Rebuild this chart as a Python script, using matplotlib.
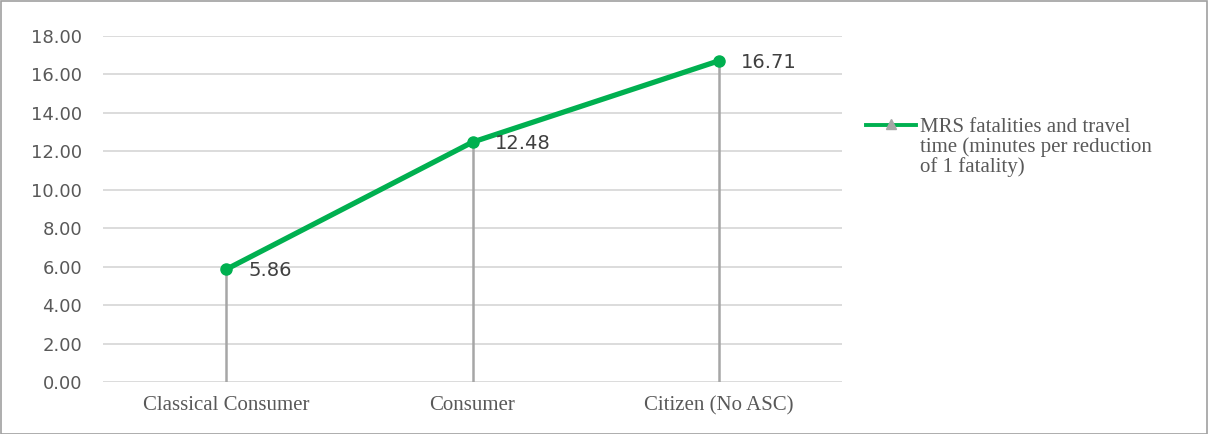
import matplotlib
matplotlib.use("Agg")
import matplotlib.pyplot as plt
from matplotlib.lines import Line2D
from matplotlib.patches import Rectangle

categories = ["Classical Consumer", "Consumer", "Citizen (No ASC)"]
mrs_values = [5.86, 12.48, 16.71]
y_ticks = [0, 2, 4, 6, 8, 10, 12, 14, 16, 18]
series_label = "MRS fatalities and travel\ntime (minutes per reduction\nof 1 fatality)"

green = "#00b050"
grid_grey = "#d9d9d9"
drop_grey = "#a6a6a6"
text_grey = "#595959"

fig = plt.figure(figsize=(12.08, 4.34), dpi=100)
fig.patches.append(Rectangle((0.0008, 0.001), 0.9984, 0.997, transform=fig.transFigure,
                             fill=False, edgecolor="#a0a0a0", linewidth=1.2))
ax = fig.add_axes([0.0853, 0.1198, 0.6117, 0.7972])

x = list(range(len(categories)))
for xi, v in zip(x, mrs_values):
    ax.plot([xi, xi], [0, v], color=drop_grey, linewidth=1.8, zorder=2)
ax.plot(x, mrs_values, color=green, linewidth=3.8, marker="o", markersize=8,
        solid_capstyle="round", zorder=3)
for xi, v in zip(x, mrs_values):
    ax.annotate(f"{v:.2f}", (xi, v), xytext=(16, -1), textcoords="offset points",
                ha="left", va="center", fontsize=14, color="#404040",
                family="DejaVu Sans")

ax.set_xlim(-0.5, 2.5)
ax.set_ylim(0, 18)
ax.set_yticks(y_ticks)
ax.set_yticklabels([f"{t:.2f}" for t in y_ticks], family="DejaVu Sans", fontsize=13, color=text_grey)
ax.set_xticks(x)
ax.set_xticklabels(categories, family="Liberation Serif", fontsize=15, color=text_grey)
ax.tick_params(axis="both", length=0)
ax.tick_params(axis="y", pad=15)
ax.tick_params(axis="x", pad=10)
ax.yaxis.grid(True, color=grid_grey, linewidth=1.3)
ax.set_axisbelow(True)
for s in ax.spines.values():
    s.set_visible(False)

# Legend entry: key line with a triangle, label aligned to its first line
key_y = 1 - 125 / 434
fig.add_artist(Line2D([0.717, 0.758], [key_y, key_y], transform=fig.transFigure,
                      color=green, linewidth=2.8))
fig.add_artist(Line2D([0.7375], [key_y + 0.002], transform=fig.transFigure,
                      marker="^", markersize=7, color="#a6a6a6", linestyle="none"))
fig.text(0.7616, 1 - 172 / 434, series_label, ha="left", va="baseline",
         family="Liberation Serif", fontsize=15, color=text_grey, linespacing=1.0)

fig.savefig("out.png", dpi=100)
